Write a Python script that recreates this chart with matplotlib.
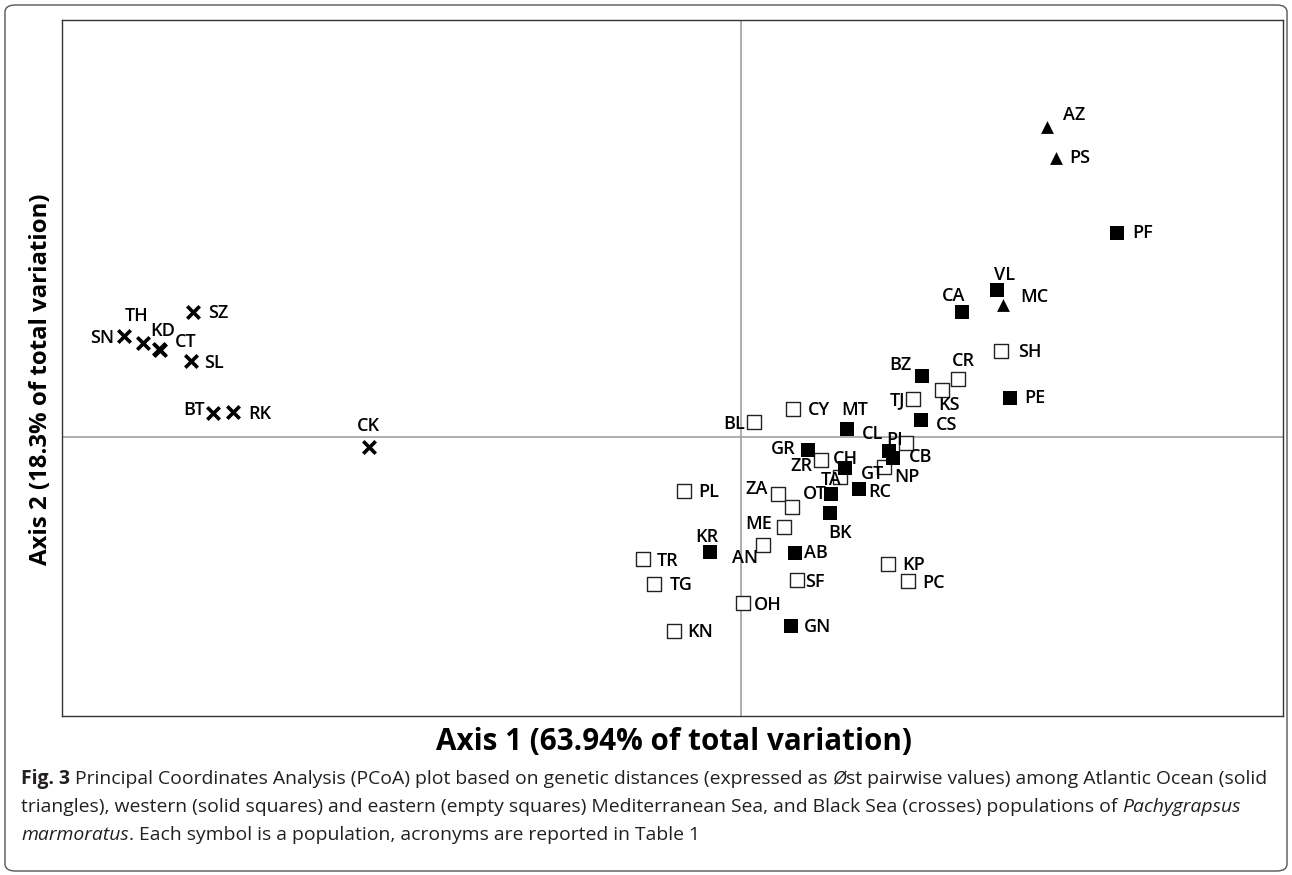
import matplotlib
matplotlib.use("Agg")
import matplotlib.pyplot as plt
from matplotlib.patches import FancyBboxPatch

# ---------------- data ----------------
atl_names = ["AZ", "PS", "MC"]
atl_x = [0.306, 0.315, 0.262]
atl_y = [0.310, 0.279, 0.132]

west_names = ["PF", "VL", "CA", "BZ", "PE", "CS", "MT", "CL", "GR", "CH", "TA", "BK",
              "RC", "PI", "NP", "KR", "AB", "GN"]
west_x = [0.376, 0.256, 0.221, 0.181, 0.269, 0.180, 0.106, 0.106, 0.067, 0.104, 0.090, 0.089,
          0.118, 0.148, 0.152, -0.031, 0.054, 0.050]
west_y = [0.204, 0.147, 0.125, 0.061, 0.039, 0.017, 0.008, 0.008, -0.013, -0.031, -0.057, -0.076,
          -0.052, -0.014, -0.021, -0.115, -0.116, -0.189]

east_names = ["SH", "CR", "KS", "TJ", "CY", "BL", "CB", "ZR", "GT", "", "ZA", "OT", "ME", "AN",
              "PL", "TR", "TG", "KP", "PC", "SF", "OH", "KN"]
east_x = [0.260, 0.217, 0.201, 0.172, 0.052, 0.013, 0.165, 0.080, 0.143, 0.099, 0.037, 0.051,
          0.043, 0.022, -0.057, -0.098, -0.087, 0.147, 0.167, 0.056, 0.002, -0.067]
east_y = [0.086, 0.058, 0.047, 0.038, 0.028, 0.015, -0.006, -0.023, -0.030, -0.040, -0.057, -0.070,
          -0.090, -0.108, -0.054, -0.122, -0.147, -0.127, -0.144, -0.143, -0.166, -0.194]

black_names = ["SZ", "SN", "TH", "KD", "CT", "SL", "BT", "RK", "CK"]
black_x = [-0.548, -0.617, -0.598, -0.582, -0.581, -0.550, -0.528, -0.508, -0.372]
black_y = [0.125, 0.101, 0.094, 0.088, 0.087, 0.076, 0.024, 0.025, -0.010]

# label offsets (pixels, right / down)
label_off = {
    "AZ": (27, -12), "PS": (24, 0), "MC": (31, -8),
    "PF": (26, 0), "VL": (8, -15), "CA": (-8, -16), "BZ": (-22, -11), "PE": (25, 0),
    "CS": (26, 5), "MT": (8, -19), "CL": (26, 5), "GR": (-25, -1), "CH": (0, -9),
    "TA": (0, -14), "BK": (10, 20), "RC": (21, 3), "PI": (6, -11), "NP": (14, 19),
    "KR": (-3, -15), "AB": (21, 0), "GN": (27, 1),
    "SH": (29, 1), "CR": (5, -18), "KS": (7, 15), "TJ": (-16, 1), "CY": (26, 1),
    "BL": (-20, 2), "CB": (15, 14), "ZR": (-20, 6), "GT": (-12, 7), "ZA": (-21, -5),
    "OT": (23, -13), "ME": (-25, -3), "AN": (-18, 13), "PL": (25, 1), "TR": (25, 2),
    "TG": (27, 1), "KP": (26, 1), "PC": (26, 2), "SF": (18, 2), "OH": (25, 2), "KN": (26, 1),
    "SZ": (25, 1), "SN": (-22, 2), "TH": (-6, -27), "KD": (4, -18), "CT": (26, -8),
    "SL": (23, 2), "BT": (-19, -3), "RK": (27, 2), "CK": (-1, -21),
}

# ---------------- figure ----------------
W, H = 1292, 875
fig = plt.figure(figsize=(W / 100, H / 100), dpi=100)
fig.patch.set_facecolor("white")
renderer = fig.canvas.get_renderer()

# outer rounded frame
frame = FancyBboxPatch((5 / W, 4 / H), (W - 10) / W, (H - 9) / H,
                       boxstyle="round,pad=0,rounding_size=0.008",
                       transform=fig.transFigure, fill=False, edgecolor="#555555",
                       linewidth=1.0)
fig.patches.append(frame)

L, R, T, B = 62, 1283, 20, 716
ax = fig.add_axes([L / W, (H - B) / H, (R - L) / W, (B - T) / H])
ax.set_xlim(-0.679, 0.542)
ax.set_ylim(-0.279, 0.417)
ax.set_xticks([])
ax.set_yticks([])
for s in ax.spines.values():
    s.set_color("#333333")
    s.set_linewidth(1.0)
ax.axhline(0, color="#a0a0a0", lw=1.2, zorder=1)
ax.axvline(0, color="#a0a0a0", lw=1.2, zorder=1)

FAM = ["Open Sans", "DejaVu Sans"]
lab_font = dict(family=FAM, fontsize=13, fontweight="semibold", color="black")

ax.scatter(atl_x, atl_y, marker="^", s=85, color="black", zorder=3, linewidths=0)
ax.scatter(west_x, west_y, marker="s", s=105, color="black", zorder=3, linewidths=0)
ax.scatter(east_x, east_y, marker="s", s=105, facecolor="white", edgecolor="#222222",
           linewidths=1.0, zorder=2)
ax.scatter(black_x, black_y, marker="x", s=80, color="black", linewidths=2.6, zorder=3)


def put_labels(names, xs, ys):
    for n, x, y in zip(names, xs, ys):
        if not n:
            continue
        dx, dy = label_off.get(n, (20, 0))
        ax.annotate(n, (x, y), xytext=(dx, -dy), textcoords="offset pixels",
                    ha="center", va="center", zorder=4, **lab_font)


put_labels(atl_names, atl_x, atl_y)
put_labels(west_names, west_x, west_y)
put_labels(east_names, east_x, east_y)
put_labels(black_names, black_x, black_y)


def fit_text(t, target, horizontal=True):
    bb = t.get_window_extent(renderer=renderer)
    cur = bb.width if horizontal else bb.height
    t.set_fontsize(t.get_fontsize() * target / cur)


# axis titles
tx = fig.text(674 / W, 1 - 742 / H, "Axis 1 (63.94% of total variation)", ha="center",
              va="center", fontsize=18, fontweight="bold", family=FAM, color="black")
fit_text(tx, 475, True)
ty = fig.text(41 / W, 1 - 379 / H, "Axis 2 (18.3% of total variation)", ha="center",
              va="center", rotation=90, fontsize=18, fontweight="bold", family=FAM,
              color="black")
fit_text(ty, 372, False)

# caption with mixed styles
cap_size = 13.0
cap_color = "#231f20"
caption_lines = [
    [("Fig. 3", "bold", "normal"),
     (" Principal Coordinates Analysis (PCoA) plot based on genetic distances (expressed as ", "normal", "normal"),
     ("Ø", "normal", "italic"),
     ("st pairwise values) among Atlantic Ocean (solid", "normal", "normal")],
    [("triangles), western (solid squares) and eastern (empty squares) Mediterranean Sea, and Black Sea (crosses) populations of ", "normal", "normal"),
     ("Pachygrapsus", "normal", "italic")],
    [("marmoratus", "normal", "italic"),
     (". Each symbol is a population, acronyms are reported in Table 1", "normal", "normal")],
]

# measure first line to fit the width
probe = []
x = 0
for txt, wt, st in caption_lines[0]:
    t = fig.text(0, 0, txt, fontsize=cap_size, fontweight=wt, fontstyle=st, family=FAM)
    x += t.get_window_extent(renderer=renderer).width
    probe.append(t)
for t in probe:
    t.remove()
cap_size = cap_size * (1260 - 21) / x

line_y = [779, 807, 835]
for pieces, yy in zip(caption_lines, line_y):
    x = 21
    for txt, wt, st in pieces:
        t = fig.text(x / W, 1 - yy / H, txt, ha="left", va="center", fontsize=cap_size,
                     fontweight=wt, fontstyle=st, family=FAM, color=cap_color)
        bb = t.get_window_extent(renderer=renderer)
        x += bb.width

fig.savefig("out.png", dpi=100, facecolor="white")
